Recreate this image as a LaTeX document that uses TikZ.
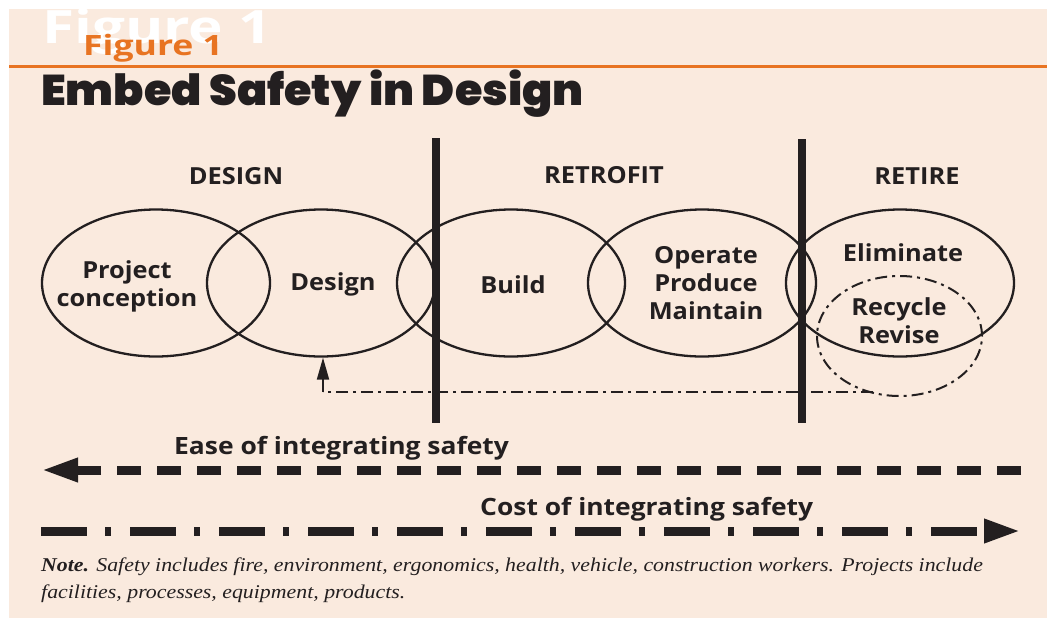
\documentclass[tikz,border=0pt]{standalone}
\usepackage{fontspec}
\setmainfont{Liberation Serif}
\newfontfamily\lab{Open Sans}[FakeStretch=1.08]
\newfontfamily\labw{Open Sans}[FakeStretch=1.11]
\newfontfamily\figfont{Open Sans}[FakeStretch=1.27]
\newfontfamily\heavy{Poppins Black}[FakeStretch=1.035]
\newfontfamily\notefont{Liberation Serif}[FakeStretch=1.12]
\usetikzlibrary{shapes.geometric,arrows.meta}
\definecolor{bg}{RGB}{250,234,222}
\definecolor{ink}{RGB}{35,31,32}
\definecolor{orng}{RGB}{232,116,34}
\tikzset{
  ell/.style={draw=ink, ellipse, line width=2.3pt, inner sep=0pt, minimum width=228pt, minimum height=147pt},
  ddell/.style={draw=ink, ellipse, line width=2pt, inner sep=0pt, dash pattern=on 12pt off 5pt on 3pt off 5pt},
  lbl/.style={text=ink, inner sep=0pt, anchor=base, align=center, font=\lab\bfseries\fontsize{23.5}{28}\selectfont},
  hdr/.style={text=ink, inner sep=0pt, anchor=base, font=\lab\bfseries\fontsize{23.5}{28}\selectfont},
  bar/.style={draw=ink, line width=8pt},
  fbline/.style={draw=ink, line width=2pt, dash pattern=on 12pt off 5pt on 3pt off 5pt},
  fbarrow/.style={draw=ink, line width=2pt, -{Triangle[length=22pt,width=12pt]}},
  easearrow/.style={draw=ink, line width=9pt, dash pattern=on 24pt off 16pt, -{Triangle[length=37pt,width=22pt]}},
  costarrow/.style={draw=ink, line width=9pt, dash pattern=on 46pt off 18pt on 6pt off 19pt, -{Triangle[length=37pt,width=22pt]}},
  cond/.style={text=ink, inner sep=0pt, anchor=base west, font=\labw\bfseries\fontsize{23.8}{28}\selectfont},
}
\begin{document}
\begin{tikzpicture}[x=1pt,y=-1pt]
\useasboundingbox (0,0) rectangle (1047,622);
\fill[white] (0,0) rectangle (1047,622);
\fill[bg] (9,9) rectangle (1047,618);
\begin{scope}
  \clip (9,9) rectangle (1047,618);
  \node[anchor=base west, inner sep=0pt, text=white, font=\figfont\bfseries\fontsize{46}{46}\selectfont] (bigfig) at (42,43) {Figure 1};
\end{scope}
\node[anchor=base west, inner sep=0pt, text=orng, font=\figfont\bfseries\fontsize{28}{28}\selectfont] (fig) at (83,55) {Figure 1};
\coordinate (olL) at (9,66);
\coordinate (olR) at (1047,66);
\draw[orng, line width=3pt] (olL) -- (olR);
\node[anchor=base west, inner sep=0pt, text=ink, font=\heavy\fontsize{43}{43}\selectfont] (title) at (41,105) {Embed Safety in Design};

% headers
\node[hdr] (hdesign) at (236,184) {DESIGN};
\node[hdr] (hretro) at (604,183) {RETROFIT};
\node[hdr] (hretire) at (917,184) {RETIRE};

% ellipses
\node[ell] (e1) at (156,283) {};
\node[ell] (e2) at (321,283) {};
\node[ell] (e3) at (511,283) {};
\node[ell] (e4) at (702,283) {};
\node[ell] (e5) at (900,283) {};
\node[ddell, minimum width=165pt, minimum height=120pt] (e6) at (899.5,336) {};

% bars
\coordinate (b1t) at (436,138);
\coordinate (b1b) at (436,423);
\coordinate (b2t) at (802,139);
\coordinate (b2b) at (802,423);
\draw[bar] (b1t) -- (b1b);
\draw[bar] (b2t) -- (b2b);

% labels
\node[lbl] (tproj) at (127,306) {Project\\conception};
\node[lbl] (tdesign) at (333,290) {Design};
\node[lbl] (tbuild) at (513,293) {Build};
\node[lbl] (toper) at (706,319) {Operate\\Produce\\Maintain};
\node[lbl] (telim) at (903,261) {Eliminate};
\node[lbl] (trecy) at (899,343) {Recycle\\Revise};

% feedback
\coordinate (fbR) at (873,392);
\coordinate (fbC) at (323,392);
\draw[fbline] (fbR) -- (fbC);
\draw[fbarrow] (fbC) -- (fbC |- e2.south);

% bottom arrows
\node[cond] (tease) at (174,454) {Ease of integrating safety};
\coordinate (easeR) at (1021,470);
\coordinate (easeL) at (41,470);
\draw[easearrow] (easeR) -- (easeL);
\node[cond] (tcost) at (480,515) {Cost of integrating safety};
\coordinate (costL) at (41,531);
\coordinate (costR) at (1021,531);
\draw[costarrow] (costL) -- (costR);

% note
\node[anchor=base west, inner sep=0pt, text=ink, align=left, font=\notefont\itshape\fontsize{19.5}{27}\selectfont] (note) at (41,598)
  {\textbf{Note.} Safety includes fire, environment, ergonomics, health, vehicle, construction workers. Projects include\\facilities, processes, equipment, products.};
\end{tikzpicture}
\end{document}
